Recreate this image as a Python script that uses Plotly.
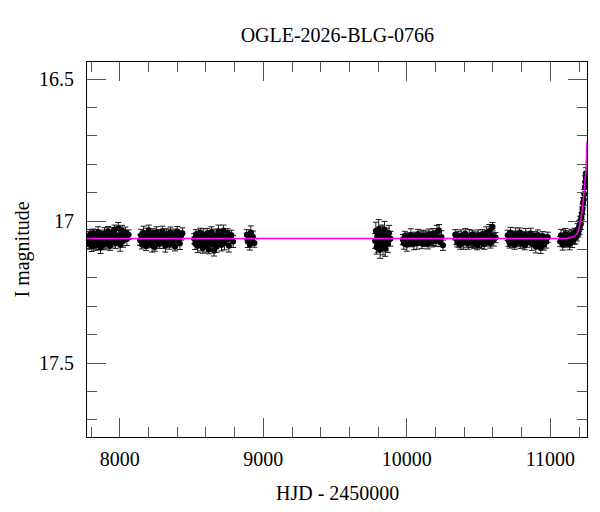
import plotly.graph_objects as go

# ---- Photometry (HJD - 2450000, I magnitude) ----
s1_t = [7775,7781,7787,7792,7798,7804,7809,7815,7821,7826,7832,7838,7843,7849,7855,7860,7866,7872,7877,7883,7889,7894,7900,7906,7912,7919,7925,7932,7938,7945,7951,7958,7964,7971,7977,7984,7990,7997,8003,8010,8016,8023,8031,8040,8050,8062]
s1_m = [17.072,17.058,17.081,17.049,17.066,17.090,17.055,17.043,17.074,17.062,17.085,17.051,17.068,17.039,17.077,17.060,17.094,17.047,17.070,17.056,17.083,17.044,17.065,17.079,17.052,17.036,17.069,17.088,17.057,17.041,17.073,17.061,17.030,17.078,17.050,17.066,17.025,17.059,17.084,17.046,17.033,17.071,17.054,17.040,17.063,17.048]

s2_t = [8142,8148,8154,8160,8166,8172,8178,8184,8190,8196,8202,8208,8214,8220,8226,8232,8238,8244,8250,8257,8263,8270,8276,8283,8290,8297,8304,8311,8318,8325,8332,8339,8346,8353,8361,8369,8377,8385,8393,8401,8410,8419,8428,8437]
s2_m = [17.067,17.050,17.082,17.058,17.041,17.075,17.063,17.089,17.047,17.070,17.032,17.060,17.078,17.053,17.086,17.044,17.066,17.091,17.055,17.038,17.072,17.061,17.080,17.049,17.064,17.035,17.076,17.057,17.087,17.045,17.069,17.052,17.083,17.040,17.062,17.074,17.048,17.090,17.056,17.037,17.068,17.079,17.051,17.043]

s3_t = [8519,8525,8531,8537,8543,8549,8555,8561,8567,8573,8579,8585,8591,8597,8603,8609,8615,8621,8627,8633,8639,8645,8651,8657,8663,8669,8675,8681,8688,8695,8702,8709,8716,8723,8730,8737,8744,8752,8760,8769,8778,8790]
s3_m = [17.062,17.079,17.046,17.070,17.088,17.054,17.067,17.040,17.083,17.059,17.095,17.048,17.073,17.061,17.086,17.043,17.077,17.100,17.056,17.069,17.038,17.082,17.064,17.104,17.051,17.075,17.090,17.058,17.036,17.071,17.047,17.084,17.063,17.033,17.078,17.055,17.066,17.042,17.087,17.060,17.050,17.072]

s4_t = [8885,8892,8899,8906,8913,8920,8928,8938]
s4_m = [17.048,17.072,17.061,17.083,17.040,17.066,17.055,17.077]

s5_t = [9779,9784,9789,9794,9799,9804,9809,9814,9819,9824,9829,9834,9839,9844,9849,9855,9861,9868,9876,9886]
s5_m = [17.070,17.035,17.092,17.055,17.082,17.028,17.064,17.101,17.046,17.075,17.040,17.088,17.058,17.030,17.097,17.066,17.050,17.080,17.043,17.062]

s6_t = [9972,9979,9986,9993,10000,10007,10014,10021,10028,10035,10042,10049,10056,10063,10070,10077,10084,10091,10098,10105,10112,10119,10126,10133,10140,10147,10154,10161,10168,10175,10182,10189,10196,10203,10210,10217,10224,10232,10241,10252]
s6_m = [17.065,17.078,17.052,17.070,17.083,17.058,17.066,17.075,17.049,17.072,17.061,17.080,17.055,17.068,17.076,17.046,17.063,17.071,17.057,17.079,17.050,17.067,17.074,17.054,17.062,17.081,17.048,17.069,17.058,17.073,17.044,17.065,17.052,17.070,17.038,17.060,17.032,17.075,17.056,17.085]

s7_t = [10337,10344,10351,10358,10365,10372,10379,10386,10393,10400,10407,10414,10421,10428,10435,10442,10449,10456,10463,10470,10477,10484,10491,10498,10505,10512,10519,10526,10533,10540,10547,10554,10561,10568,10575,10582,10589,10597,10606,10618]
s7_m = [17.048,17.062,17.075,17.055,17.069,17.082,17.051,17.064,17.077,17.058,17.044,17.071,17.066,17.080,17.053,17.060,17.073,17.047,17.068,17.079,17.056,17.063,17.085,17.050,17.070,17.059,17.076,17.045,17.067,17.081,17.054,17.041,17.072,17.063,17.035,17.078,17.050,17.020,17.066,17.058]

s8_t = [10702,10709,10716,10723,10730,10737,10744,10751,10758,10765,10772,10779,10786,10793,10800,10807,10814,10821,10828,10835,10842,10849,10856,10863,10870,10877,10884,10891,10898,10905,10912,10919,10926,10933,10940,10947,10955,10963,10972,10982]
s8_m = [17.050,17.068,17.079,17.041,17.062,17.075,17.055,17.084,17.046,17.066,17.072,17.058,17.040,17.077,17.063,17.053,17.070,17.086,17.048,17.061,17.074,17.057,17.067,17.044,17.080,17.060,17.071,17.052,17.090,17.064,17.049,17.076,17.059,17.095,17.068,17.054,17.082,17.062,17.073,17.057]

s9_t = [11068,11074,11080,11086,11092,11098,11104,11110,11116,11122,11128,11134,11140,11146,11152,11158,11164,11170,11175,11180,11185,11190,11195,11200,11204,11208,11212,11216,11220,11224,11228,11232,11236,11240,11243,11246,11249]
s9_m = [17.072,17.050,17.065,17.083,17.055,17.068,17.046,17.077,17.060,17.071,17.052,17.080,17.063,17.048,17.070,17.056,17.062,17.040,17.058,17.045,17.052,17.030,17.040,17.018,17.025,17.000,17.010,16.985,16.972,16.958,16.935,16.925,16.905,16.880,16.862,16.845,16.832]

# photometric error patterns (mag)
err_typical = [0.018,0.021,0.016,0.019,0.023,0.017,0.020,0.015,0.022,0.018]
err_s5 = [0.026,0.031,0.024,0.029,0.027,0.033,0.025,0.030,0.028,0.026]

# ---- Microlensing model curve ----
model_t = [7772, 11080, 11120, 11150, 11170, 11185, 11195, 11205, 11215, 11225, 11235, 11245, 11250, 11255]
model_m = [17.061, 17.061, 17.060, 17.057, 17.052, 17.045, 17.034, 17.012, 16.985, 16.945, 16.895, 16.835, 16.790, 16.720]

x_ticks = [8000, 9000, 10000, 11000]
y_ticks = [16.5, 17, 17.5]
y_ticklabels = ["16.5", "17", "17.5"]

hjd = s1_t + s2_t + s3_t + s4_t + s5_t + s6_t + s7_t + s8_t + s9_t
mag = s1_m + s2_m + s3_m + s4_m + s5_m + s6_m + s7_m + s8_m + s9_m
err = []
for seg in [s1_t, s2_t, s3_t, s4_t]:
    err += [err_typical[i % len(err_typical)] for i in range(len(seg))]
err += [err_s5[i % len(err_s5)] for i in range(len(s5_t))]
for seg in [s6_t, s7_t, s8_t, s9_t]:
    err += [err_typical[i % len(err_typical)] for i in range(len(seg))]

FONT = "Liberation Serif"
FS = 20

fig = go.Figure()
fig.add_trace(go.Scatter(
    x=hjd, y=mag, mode="markers",
    marker=dict(color="black", size=6),
    error_y=dict(type="data", array=err, color="#1a1a1a", thickness=1, width=3),
    showlegend=False, hoverinfo="skip"))
fig.add_trace(go.Scatter(
    x=model_t, y=model_m, mode="lines", line_shape="spline",
    line=dict(color="#ff00ff", width=1.5),
    showlegend=False, hoverinfo="skip"))

axis_common = dict(
    showgrid=False, zeroline=False, showline=True, linecolor="black", linewidth=1,
    mirror="allticks", ticks="inside", tickcolor="#555555", tickwidth=1.2,
    ticklen=19, tickfont=dict(family=FONT, size=FS, color="black"),
    automargin=False,
)

# page has an 8px body margin; figure coordinates are offset accordingly
L, T = 79.3, 54.0
W_PLOT, H_PLOT = 500.0, 374.7

fig.update_layout(
    width=600, height=512,
    margin=dict(l=L, r=600 - L - W_PLOT, t=T, b=512 - T - H_PLOT),
    paper_bgcolor="white", plot_bgcolor="white",
    font=dict(family=FONT, size=FS, color="black"),
    title=dict(text="OGLE-2026-BLG-0766", x=(L + W_PLOT / 2) / 600, xanchor="center",
               y=1 - 27 / 512, yanchor="middle", font=dict(family=FONT, size=FS)),
    xaxis=dict(range=[7772, 11255], tickmode="array", tickvals=x_ticks,
               ticktext=[str(v) for v in x_ticks],
               minor=dict(ticks="inside", ticklen=10, dtick=200, tick0=8000,
                          tickcolor="#555555", tickwidth=1.2),
               ticklabelstandoff=4,
               **axis_common),
    yaxis=dict(range=[17.76, 16.44], tickmode="array", tickvals=y_ticks, ticktext=y_ticklabels,
               minor=dict(ticks="inside", ticklen=10, dtick=0.1, tick0=16.5,
                          tickcolor="#555555", tickwidth=1.2),
               ticklabelstandoff=8,
               **axis_common),
    annotations=[
        dict(text="HJD - 2450000", xref="paper", yref="paper", x=0.5, y=0,
             xanchor="center", yanchor="middle", yshift=-56, showarrow=False,
             font=dict(family=FONT, size=FS)),
        dict(text="I magnitude", xref="paper", yref="paper", x=0, y=0.5,
             xanchor="center", yanchor="middle", xshift=-65, textangle=-90, showarrow=False,
             font=dict(family=FONT, size=FS)),
    ],
)

fig.write_html("out.html")
